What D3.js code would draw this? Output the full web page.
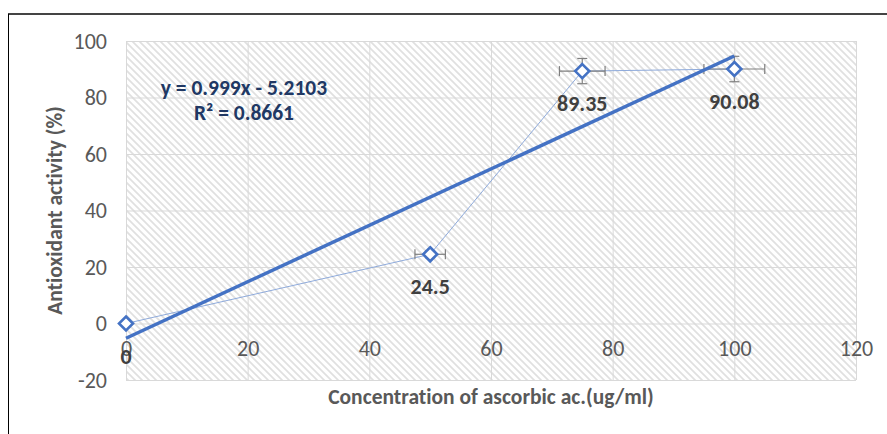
<!DOCTYPE html>
<html><head><meta charset="utf-8">
<script src="https://cdn.jsdelivr.net/npm/d3@7"></script>
<style>body{margin:0;background:#fff}svg{display:block}text{font-variant-ligatures:none}</style>
</head><body>
<svg id="chart" width="887" height="434"></svg>
<script>
// Antioxidant activity vs concentration of ascorbic acid
const concentration = [0, 50, 75, 100];
const activity = [0, 24.5, 89.35, 90.08];
const concErr = [0, 2.5, 3.75, 5];
const activityErr = [0, 1.225, 4.4675, 4.504];
const pointLabels = ["0", "24.5", "89.35", "90.08"];
const xTicks = [0, 20, 40, 60, 80, 100, 120];
const yTicks = [-20, 0, 20, 40, 60, 80, 100];
const trendSlope = 0.999;
const trendIntercept = -5.2103;
const trendR2 = 0.8661;
const trendRange = [0, 100];

const FONT = "Carlito, 'Open Sans', sans-serif";
const svg = d3.select("#chart");
const W = 887, H = 434;
const plot = {left: 126, right: 856, top: 41, bottom: 380};

const x = d3.scaleLinear().domain([0, 120]).range([plot.left, plot.right]);
const y = d3.scaleLinear().domain([-20, 100]).range([plot.bottom, plot.top]);

// hatched plot-area fill
const defs = svg.append("defs");
const P = 7;
const pat = defs.append("pattern").attr("id", "hatch").attr("patternUnits", "userSpaceOnUse")
  .attr("width", P).attr("height", P);
pat.append("rect").attr("width", P).attr("height", P).attr("fill", "#fff");
pat.append("path").attr("d", `M0,0L${P},${P}M-1,${P - 1}L1,${P + 1}M${P - 1},-1L${P + 1},1`)
  .attr("stroke", "#e0e0e0").attr("stroke-width", 1.7);

// outer frame (top and left edges)
svg.append("line").attr("x1", 8).attr("x2", W).attr("y1", 14).attr("y2", 14)
  .attr("stroke", "#444").attr("stroke-width", 2);
svg.append("line").attr("x1", 8.5).attr("x2", 8.5).attr("y1", 14).attr("y2", H)
  .attr("stroke", "#000").attr("stroke-width", 1);

svg.append("rect").attr("x", plot.left).attr("y", plot.top)
  .attr("width", plot.right - plot.left).attr("height", plot.bottom - plot.top)
  .attr("fill", "url(#hatch)");

// gridlines
const gx = svg.append("g").attr("transform", `translate(0,${plot.bottom})`)
  .call(d3.axisBottom(x).tickValues(xTicks).tickSize(-(plot.bottom - plot.top)).tickFormat(""));
const gy = svg.append("g").attr("transform", `translate(${plot.left},0)`)
  .call(d3.axisLeft(y).tickValues(yTicks).tickSize(-(plot.right - plot.left)).tickFormat(""));
[gx, gy].forEach(g => {
  g.select(".domain").remove();
  g.selectAll("line").attr("stroke", "#d9d9d9").attr("stroke-width", 1);
});

// tick labels (plain hyphen for negatives)
const plain = d => String(d);
const xl = svg.append("g").attr("transform", `translate(0,${y(0)})`)
  .call(d3.axisBottom(x).tickValues(xTicks).tickSize(0).tickPadding(20).tickFormat(plain));
const yl = svg.append("g").attr("transform", `translate(${plot.left},0)`)
  .call(d3.axisLeft(y).tickValues(yTicks).tickSize(0).tickPadding(19).tickFormat(plain));
[xl, yl].forEach(g => {
  g.select(".domain").remove();
  g.selectAll("text").attr("fill", "#595959").attr("font-family", FONT).attr("font-size", 22);
});
xl.selectAll("text").attr("dy", "0.55em");

// axis titles
svg.append("text").attr("x", (plot.left + plot.right) / 2).attr("y", 404)
  .attr("text-anchor", "middle").attr("font-family", FONT).attr("font-weight", "bold")
  .attr("font-size", 21.5).attr("fill", "#595959")
  .text("Concentration of ascorbic ac.(ug/ml)");
svg.append("text").attr("transform", `translate(62,${(plot.top + plot.bottom) / 2}) rotate(-90)`)
  .attr("text-anchor", "middle").attr("font-family", FONT).attr("font-weight", "bold")
  .attr("font-size", 21.5).attr("fill", "#595959")
  .text("Antioxidant activity (%)");

const pts = concentration.map((c, i) => ({c, a: activity[i], ex: concErr[i], ey: activityErr[i], label: pointLabels[i]}));

// series line
svg.append("path").datum(pts)
  .attr("d", d3.line().x(d => x(d.c)).y(d => y(d.a)))
  .attr("fill", "none").attr("stroke", "#8eaadb").attr("stroke-width", 1);

// error bars
const eb = svg.append("g").attr("stroke", "#7f7f7f").attr("stroke-width", 1.2).attr("fill", "none");
pts.forEach(d => {
  if (d.ex > 0) {
    eb.append("line").attr("x1", x(d.c - d.ex)).attr("x2", x(d.c + d.ex)).attr("y1", y(d.a)).attr("y2", y(d.a));
    [d.c - d.ex, d.c + d.ex].forEach(v => eb.append("line").attr("x1", x(v)).attr("x2", x(v))
      .attr("y1", y(d.a) - 5).attr("y2", y(d.a) + 5));
  }
  if (d.ey > 0) {
    eb.append("line").attr("x1", x(d.c)).attr("x2", x(d.c)).attr("y1", y(d.a - d.ey)).attr("y2", y(d.a + d.ey));
    [d.a - d.ey, d.a + d.ey].forEach(v => eb.append("line").attr("y1", y(v)).attr("y2", y(v))
      .attr("x1", x(d.c) - 5).attr("x2", x(d.c) + 5));
  }
});

// linear trendline
svg.append("line")
  .attr("x1", x(trendRange[0])).attr("y1", y(trendSlope * trendRange[0] + trendIntercept))
  .attr("x2", x(trendRange[1])).attr("y2", y(trendSlope * trendRange[1] + trendIntercept))
  .attr("stroke", "#4472c4").attr("stroke-width", 3.5);

// diamond markers
svg.append("g").selectAll("path").data(pts).join("path")
  .attr("transform", d => `translate(${x(d.c)},${y(d.a)})`)
  .attr("d", "M0,-7L7,0L0,7L-7,0Z")
  .attr("fill", "#fff").attr("stroke", "#4472c4").attr("stroke-width", 2.6);

// data labels
svg.append("g").selectAll("text").data(pts).join("text")
  .attr("x", d => x(d.c)).attr("y", d => y(d.a) + 40)
  .attr("text-anchor", "middle").attr("font-family", FONT).attr("font-weight", "bold")
  .attr("font-size", 22).attr("fill", "#404040").text(d => d.label);

// trendline equation
const eq = svg.append("text").attr("font-family", FONT).attr("font-weight", "bold")
  .attr("font-size", 21.5).attr("fill", "#203864").attr("text-anchor", "middle");
eq.append("tspan").attr("x", 244).attr("y", 95)
  .text(`y = ${trendSlope}x - ${Math.abs(trendIntercept)}`);
eq.append("tspan").attr("x", 244).attr("y", 120)
  .text("R² = " + trendR2);
</script>
</body></html>
